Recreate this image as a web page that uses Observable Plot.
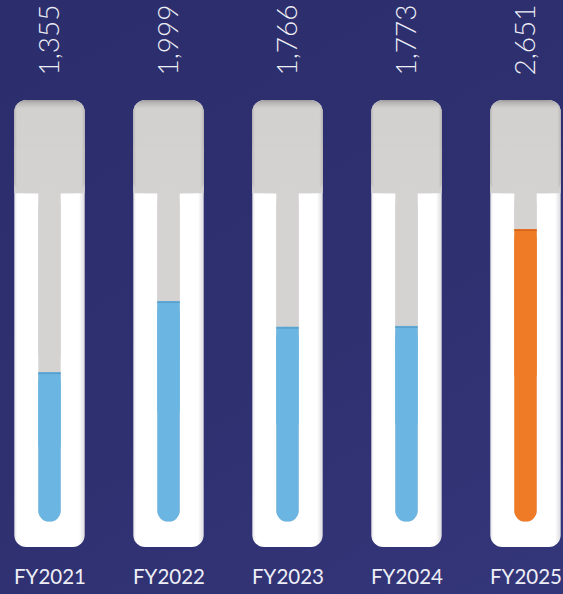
<!DOCTYPE html>
<html>
<head>
<meta charset="utf-8">
<script src="https://cdn.jsdelivr.net/npm/d3@7"></script>
<script src="https://cdn.jsdelivr.net/npm/@observablehq/plot@0.6"></script>
<style>
  html, body { margin: 0; padding: 0; }
  body {
    width: 563px; height: 594px; overflow: hidden;
    background: linear-gradient(150deg, #2b2d6c 0%, #2e3070 55%, #34367a 100%);
  }
  svg { display: block; }
</style>
</head>
<body>
<div id="chart"></div>
<script>
// Yearly totals shown as thermometer gauges
const years = ["FY2021", "FY2022", "FY2023", "FY2024", "FY2025"];
const values = [1355, 1999, 1766, 1773, 2651];
const isLatest = [false, false, false, false, true];

// Tube outline, expressed on the value axis
const tubeTop = 3820;
const capStart = 2975;
const tubeBottom = -230;

const rows = years.map((year, i) => ({year, value: values[i], latest: isLatest[i]}));

const blue = "#6bb5e2", blueEdge = "#5a9fcc";
const orange = "#f07b27", orangeEdge = "#d4651b";
const labelColor = "#eeeef6";

const outerInset = 24.3;   // tube body
const channelInset = 48.3; // liquid channel

const chart = Plot.plot({
  width: 563,
  height: 594,
  margin: 0,
  style: {background: "transparent", overflow: "visible"},
  x: {type: "band", domain: years, range: [-10.5, 584.5], padding: 0, axis: null},
  y: {domain: [tubeBottom, tubeTop], range: [547, 100], axis: null},
  marks: [
    // white tube body
    Plot.rectY(rows, {x: "year", y1: tubeBottom, y2: tubeTop, insetLeft: outerInset, insetRight: outerInset,
      fill: "url(#bodyShade)", rx: 12}),
    // grey cap at the top of each tube
    Plot.rectY(rows, {x: "year", y1: capStart, y2: tubeTop, insetLeft: outerInset, insetRight: outerInset,
      fill: "url(#capShade)", rx: 12}),
    Plot.rectY(rows, {x: "year", y1: capStart, y2: (capStart + tubeTop) / 2, insetLeft: outerInset, insetRight: outerInset,
      fill: "#d4d1d1"}),
    Plot.rectY(rows, {x: "year", y1: capStart, y2: tubeTop, insetLeft: outerInset, insetRight: outerInset,
      fill: "url(#capSides)", rx: 12}),
    // empty channel
    Plot.rectY(rows, {x: "year", y1: 0, y2: capStart, insetLeft: channelInset, insetRight: channelInset,
      fill: "#d5d2d2", rx: 11}),
    Plot.rectY(rows, {x: "year", y1: capStart / 2, y2: capStart + 20, insetLeft: channelInset, insetRight: channelInset,
      fill: "#d5d2d2"}),
    // liquid: rounded at the bottom, flat at the level
    Plot.rectY(rows, {x: "year", y1: 0, y2: "value", insetLeft: channelInset, insetRight: channelInset,
      fill: d => d.latest ? orange : blue, rx: 11}),
    Plot.rectY(rows, {x: "year", y1: d => d.value / 2, y2: "value", insetLeft: channelInset, insetRight: channelInset,
      fill: d => d.latest ? orange : blue}),
    Plot.tickY(rows, {x: "year", y: "value", insetLeft: channelInset, insetRight: channelInset,
      stroke: d => d.latest ? orangeEdge : blueEdge, strokeWidth: 1.5, dy: 0.75}),
    // value labels above each tube
    Plot.text(rows, {x: "year", y: tubeTop, dy: -25, text: d => d3.format(",")(d.value),
      rotate: -90, textAnchor: "start", fill: labelColor, fontSize: 28, fontWeight: 300,
      fontFamily: "Lato, 'Open Sans', sans-serif"}),
    // year labels below each tube
    Plot.text(rows, {x: "year", y: tubeBottom, dy: 30, text: "year", lineAnchor: "middle",
      fill: labelColor, fontSize: 20.5, fontFamily: "Lato, 'Open Sans', sans-serif"})
  ]
});

// gradients used by the tube body and cap
const defs = d3.select(chart).insert("defs", ":first-child");
function gradient(id, stops, vertical) {
  const g = defs.append("linearGradient").attr("id", id)
    .attr("x1", 0).attr("y1", 0).attr("x2", vertical ? 0 : 1).attr("y2", vertical ? 1 : 0);
  stops.forEach(([o, c, a]) => g.append("stop").attr("offset", o).attr("stop-color", c).attr("stop-opacity", a ?? 1));
}
gradient("bodyShade", [
  [0, "#e2e2e6"], [0.04, "#ffffff"], [0.92, "#ffffff"], [1, "#dcdce1"]
]);
gradient("capShade", [
  [0, "#9c9999"], [0.03, "#b9b6b6"], [0.09, "#d3d0d0"], [1, "#d4d1d1"]
], true);
gradient("capSides", [
  [0, "#8f8c8c", 0.45], [0.05, "#d4d1d1", 0], [0.94, "#d4d1d1", 0], [1, "#8f8c8c", 0.45]
]);

document.getElementById("chart").append(chart);
</script>
</body>
</html>
